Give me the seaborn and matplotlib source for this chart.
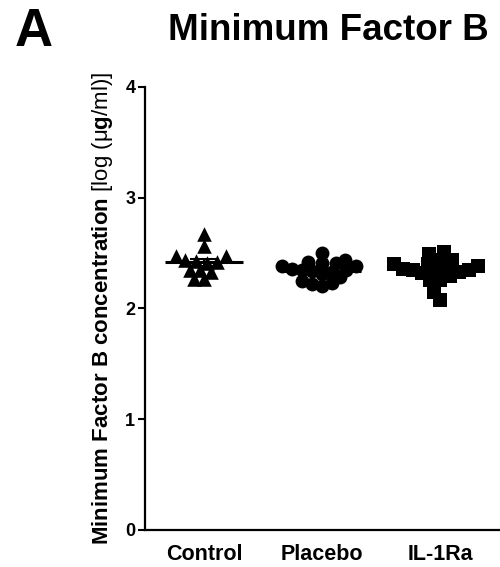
import numpy as np
import pandas as pd
import matplotlib
matplotlib.use("Agg")
import matplotlib.pyplot as plt
import seaborn as sns

# Minimum factor B concentration, log(µg/ml), per subject
groups = ["Control", "Placebo", "IL-1Ra"]
control = [2.67, 2.56, 2.47, 2.47, 2.44, 2.43, 2.42, 2.41, 2.35, 2.35, 2.33, 2.27, 2.27]
placebo = [2.50, 2.44, 2.42, 2.41, 2.41, 2.38, 2.38, 2.36, 2.35, 2.35, 2.34, 2.33,
           2.31, 2.28, 2.25, 2.23, 2.22, 2.20]
il1ra = [2.51, 2.49, 2.44, 2.44, 2.40, 2.40, 2.38, 2.38, 2.36, 2.35, 2.35, 2.34,
         2.33, 2.32, 2.29, 2.26, 2.26, 2.15, 2.08]
markers = ["^", "o", "s"]

values = {"Control": control, "Placebo": placebo, "IL-1Ra": il1ra}
df = pd.DataFrame(
    [(g, v) for g in groups for v in values[g]], columns=["group", "value"]
)

sns.set_theme(style="ticks")
plt.rcParams["font.family"] = ["Liberation Sans", "DejaVu Sans"]
plt.rcParams["mathtext.fontset"] = "custom"
plt.rcParams["mathtext.rm"] = "Liberation Sans"
plt.rcParams["mathtext.bf"] = "Liberation Sans:bold"
plt.rcParams["mathtext.it"] = "Liberation Sans:italic"
for key in ["text.color", "axes.labelcolor", "xtick.color", "ytick.color",
            "axes.edgecolor"]:
    plt.rcParams[key] = "black"

fig = plt.figure(figsize=(5.0, 5.67), dpi=100)
ax = fig.add_axes([0.29, 0.0653, 0.708, 0.7813])

# Lay out a compact beeswarm with small markers, then freeze it and
# enlarge the markers so neighbouring points overlap a little.
layout_size = 7.0
final_size = {"^": 10.5, "o": 10.0, "s": 9.5}
swarm_sets = []
for g, m in zip(groups, markers):
    n_before = len(ax.collections)
    sns.swarmplot(
        data=df[df["group"] == g], x="group", y="value", order=groups,
        marker=m, color="black", size=layout_size, linewidth=0, ax=ax,
        warn_thresh=1.0,
    )
    swarm_sets.append((m, list(ax.collections[n_before:])))
ax.set_xlim(-0.5, 2.5)
ax.set_ylim(0, 4)
fig.canvas.draw()
for m, colls in swarm_sets:
    for coll in colls:
        if "draw" in coll.__dict__:
            del coll.draw
        coll.set_sizes([final_size[m] ** 2])

# Mean line with SEM whiskers for each group
for i, g in enumerate(groups):
    v = np.asarray(values[g])
    mean = v.mean()
    sem = v.std(ddof=1) / np.sqrt(len(v))
    ax.hlines(mean, i - 0.33, i + 0.33, color="black", lw=2.2, zorder=5)
    ax.errorbar(i, mean, yerr=sem, color="black", lw=1.5, capsize=10,
                capthick=1.5, zorder=5)

ax.set_xlim(-0.5, 2.5)
ax.set_ylim(0, 4)
ax.set_yticks([0, 1, 2, 3, 4])
ax.set_yticklabels(["0", "1", "2", "3", "4"], fontsize=13, fontweight="bold")
ax.set_xticks(range(3))
ax.set_xticklabels(groups, fontsize=15.5, fontweight="bold")
ax.tick_params(axis="x", length=0, pad=10)
ax.tick_params(axis="y", length=5, width=1.5, pad=2)
sns.despine(ax=ax)
for s in ["left", "bottom"]:
    ax.spines[s].set_linewidth(1.6)
    ax.spines[s].set_color("black")
ax.set_xlabel("")
ax.set_ylabel(
    r"$\mathbf{Minimum\ Factor\ B\ concentration}$ [log (μ$\mathbf{g}$/ml)]",
    fontsize=16, labelpad=7,
)

fig.text(0.656, 0.947, "Minimum Factor B", ha="center", va="center",
         fontsize=26.5, fontweight="bold")
fig.text(0.03, 0.944, "A", ha="left", va="center", fontsize=38,
         fontweight="bold")

fig.savefig("out.png", dpi=100)
